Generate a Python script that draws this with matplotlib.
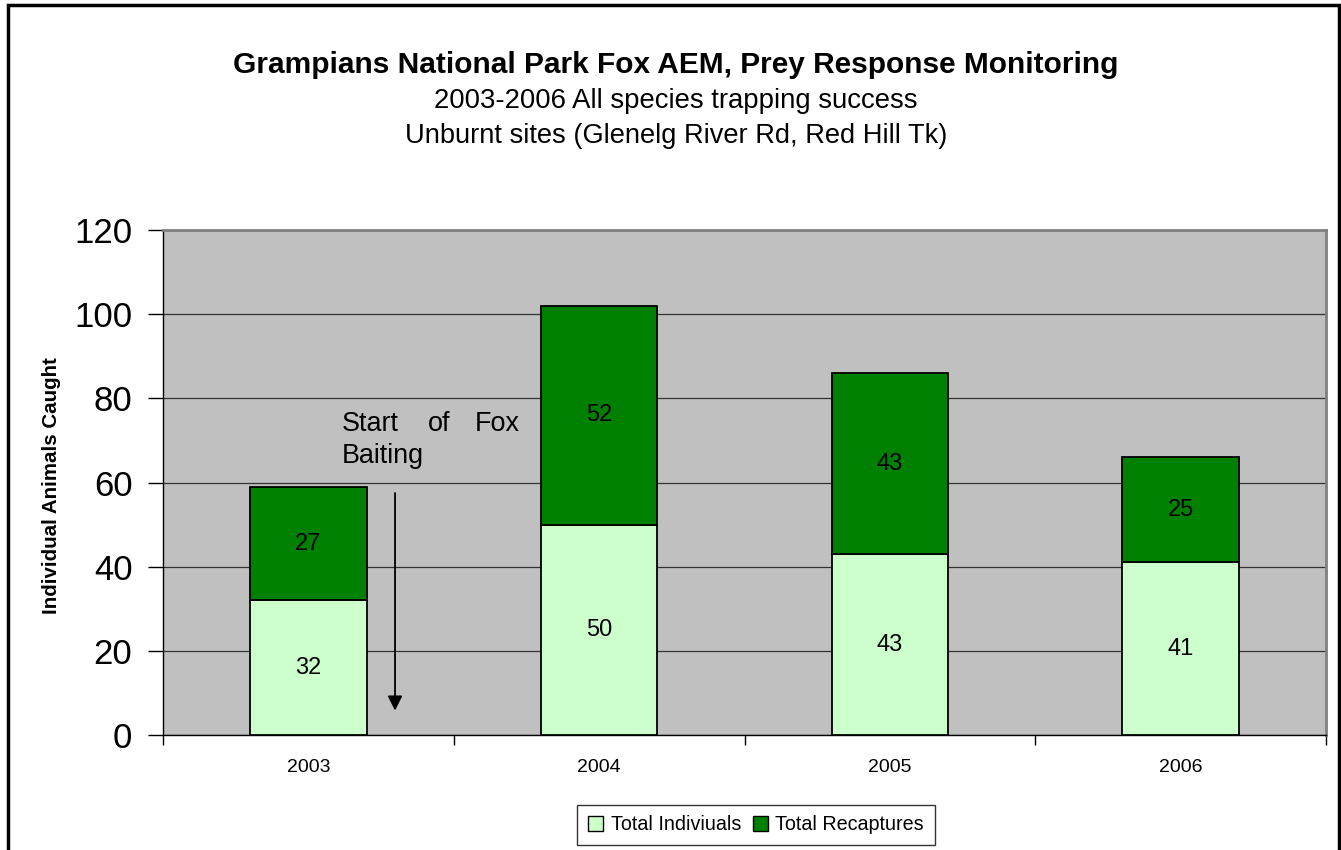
import matplotlib
matplotlib.use("Agg")
import matplotlib.pyplot as plt
from matplotlib.patches import Rectangle, Patch
import numpy as np

plt.rcParams['font.family'] = ['Liberation Sans', 'DejaVu Sans']

years = ["2003", "2004", "2005", "2006"]
individuals = [32, 50, 43, 41]
recaptures = [27, 52, 43, 25]
series_names = ["Total Indiviuals", "Total Recaptures"]
y_ticks = [0, 20, 40, 60, 80, 100, 120]

title = "Grampians National Park Fox AEM, Prey Response Monitoring"
subtitle1 = "2003-2006 All species trapping success"
subtitle2 = "Unburnt sites (Glenelg River Rd, Red Hill Tk)"
ylabel = "Individual Animals Caught"

W, H = 1341, 850
fig = plt.figure(figsize=(W / 100, H / 100), dpi=100)

# axes in pixel coords: left 163, right 1326, top 230, bottom 735
l, r, t, b = 163, 1326, 230, 735
ax = fig.add_axes([l / W, 1 - b / H, (r - l) / W, (b - t) / H])
ax.set_facecolor("#C0C0C0")

x = np.arange(len(years))
bw = 0.40
light = "#CCFFCC"
dark = "#008000"
ax.bar(x, individuals, bw, color=light, edgecolor="black", linewidth=1.3, zorder=3)
ax.bar(x, recaptures, bw, bottom=individuals, color=dark, edgecolor="black", linewidth=1.3, zorder=3)

for xi, v1, v2 in zip(x, individuals, recaptures):
    ax.text(xi, v1 / 2, str(v1), ha="center", va="center", fontsize=17, zorder=4)
    ax.text(xi, v1 + v2 / 2, str(v2), ha="center", va="center", fontsize=17, zorder=4)

ax.set_xlim(-0.5, len(years) - 0.5)
ax.set_ylim(0, 120)
ax.set_yticks(y_ticks)
ax.set_yticklabels([str(v) for v in y_ticks], fontsize=25)
ax.yaxis.grid(True, color="#333333", linewidth=0.9, zorder=1)
ax.set_axisbelow(True)

# category labels at centres, ticks at boundaries
ax.set_xticks(x)
ax.set_xticklabels(years, fontsize=14)
ax.tick_params(axis="x", length=0, pad=17)
ax.set_xticks(np.arange(len(years) + 1) - 0.5, minor=True)
ax.tick_params(axis="x", which="minor", length=7, direction="out", width=1)
ax.tick_params(axis="y", length=11, direction="out", width=1, pad=11)

for s in ["top", "right"]:
    ax.spines[s].set_color("#808080")
    ax.spines[s].set_linewidth(2)
ax.spines["left"].set_color("black")
ax.spines["bottom"].set_color("black")
ax.spines["left"].set_linewidth(1)
ax.spines["bottom"].set_linewidth(1)

# annotation
fs_ann = 19.4
ax.text(0.116, 74.0, "Start", ha="left", va="center", fontsize=fs_ann)
ax.text(0.45, 74.0, "of", ha="center", va="center", fontsize=fs_ann)
ax.text(0.727, 74.0, "Fox", ha="right", va="center", fontsize=fs_ann)
ax.text(0.116, 66.3, "Baiting", ha="left", va="center", fontsize=fs_ann)
ax.annotate("", xy=(0.298, 5.8), xytext=(0.298, 57.5),
            arrowprops=dict(arrowstyle="-|>", color="black", lw=1.3,
                            mutation_scale=22, shrinkA=0, shrinkB=0), zorder=5)

fig.text(52 / W, 1 - 486 / H, ylabel, rotation=90, ha="center", va="center",
         fontsize=14.8, fontweight="bold")

fig.text(676 / W, 1 - 65 / H, title, ha="center", va="center", fontsize=21.5, fontweight="bold")
fig.text(676 / W, 1 - 101 / H, subtitle1, ha="center", va="center", fontsize=19.8)
fig.text(676 / W, 1 - 136 / H, subtitle2, ha="center", va="center", fontsize=19.6)

handles = [Patch(facecolor=light, edgecolor="black"), Patch(facecolor=dark, edgecolor="black")]
leg = fig.legend(handles, series_names, loc="center", bbox_to_anchor=(756 / W, 1 - 825 / H),
                 ncol=2, fontsize=14.2, frameon=True, fancybox=False, handlelength=0.75,
                 handleheight=0.75, handletextpad=0.4, columnspacing=0.6, borderpad=0.55,
                 borderaxespad=0)
leg.get_frame().set_edgecolor("black")
leg.get_frame().set_linewidth(1)

# figure border
fig.patches.append(Rectangle((8 / W, -0.05), (1339 - 8) / W, 1.05 - 5 / H,
                             transform=fig.transFigure, fill=False, edgecolor="black",
                             linewidth=2.5, clip_on=False))

fig.savefig("out.png", dpi=100)
